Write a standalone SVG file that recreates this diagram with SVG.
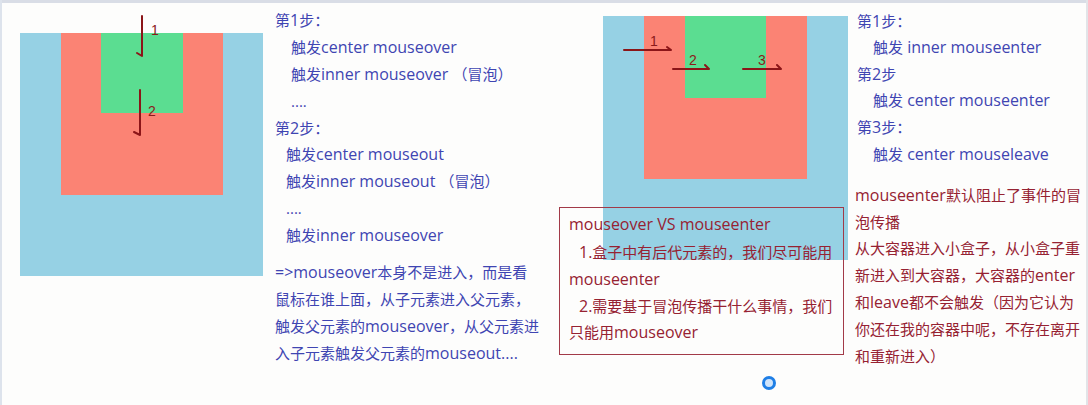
<svg xmlns="http://www.w3.org/2000/svg" width="1088" height="405" viewBox="0 0 1088 405">
<style>
.t{font-family:"Open Sans","Noto Sans CJK SC",sans-serif;font-size:15px}
.t .l{font-size:16px}
.b{fill:#3f45b2}
.r{fill:#962232}
.lbl{font-family:"Liberation Sans","Noto Sans CJK SC",sans-serif;font-size:14px;fill:#8b1a1a}
.arr{fill:none;stroke:#8b1518;stroke-width:2;stroke-linecap:round;stroke-linejoin:round}
.blue{fill:#96d1e4}
.red{fill:#fb8374}
.green{fill:#5bdd91}
</style>
<rect x="0" y="0" width="1088" height="405" fill="#fdfdfc"/>
<rect x="0" y="0" width="1088" height="3" fill="#d9dde6"/>
<rect x="0" y="0" width="2" height="405" fill="#dde3ec"/>
<rect x="1086" y="0" width="2" height="405" fill="#e2e4e8"/>

<g id="left-boxes">
<rect class="blue" x="20" y="33" width="243" height="243"/>
<rect class="red" x="61" y="33" width="162" height="162"/>
<rect class="green" x="101" y="33" width="82" height="80"/>
</g>
<g id="right-boxes">
<rect class="blue" x="603" y="16" width="245" height="244"/>
<rect class="red" x="644" y="16" width="163" height="163"/>
<rect class="green" x="685" y="16" width="81" height="82"/>
</g>

<g id="connectors">
<path class="arr" d="M142 16 V56 L137 53"/>
<path class="arr" d="M140 90 V135 L134 132"/>
<path class="arr" d="M624 50 H671 L667 47"/>
<path class="arr" d="M673 69 H709 L705 65"/>
<path class="arr" d="M743 69 H781 L777 65"/>
<text class="lbl" x="151" y="35">1</text>
<text class="lbl" x="148" y="116">2</text>
<text class="lbl" x="650" y="46">1</text>
<text class="lbl" x="689" y="65">2</text>
<text class="lbl" x="758" y="65">3</text>
</g>

<g id="left-steps" class="t b">
<text x="275" y="26">第<tspan class="l">1</tspan>步：</text>
<text x="291" y="53">触发<tspan class="l">center mouseover</tspan></text>
<text x="291" y="80">触发<tspan class="l">inner mouseover </tspan>（冒泡）</text>
<text x="291" y="107">....</text>
<text x="275" y="134">第<tspan class="l">2</tspan>步：</text>
<text x="286" y="160">触发<tspan class="l">center mouseout</tspan></text>
<text x="286" y="187">触发<tspan class="l">inner mouseout </tspan>（冒泡）</text>
<text x="286" y="214">....</text>
<text x="286" y="241">触发<tspan class="l">inner mouseover</tspan></text>
</g>

<g id="left-note" class="t b">
<text x="275" y="278"><tspan class="l">=&gt;mouseover</tspan>本身不是进入，而是看</text>
<text x="275" y="305">鼠标在谁上面，从子元素进入父元素，</text>
<text x="275" y="332">触发父元素的<tspan class="l">mouseover</tspan>，从父元素进</text>
<text x="275" y="359">入子元素触发父元素的<tspan class="l">mouseout....</tspan></text>
</g>

<g id="right-steps" class="t b">
<text x="857" y="27">第<tspan class="l">1</tspan>步：</text>
<text x="873" y="53">触发<tspan class="l"> inner mouseenter</tspan></text>
<text x="857" y="80">第<tspan class="l">2</tspan>步</text>
<text x="873" y="106">触发<tspan class="l"> center mouseenter</tspan></text>
<text x="857" y="133">第<tspan class="l">3</tspan>步：</text>
<text x="873" y="160">触发<tspan class="l"> center mouseleave</tspan></text>
</g>

<g id="compare-box">
<rect x="559.5" y="207.5" width="284" height="147" fill="none" stroke="#a23a48" stroke-width="1"/>
<g class="t r">
<text x="569" y="230"><tspan class="l">mouseover VS mouseenter</tspan></text>
<text x="579" y="258"><tspan class="l">1.</tspan>盒子中有后代元素的，我们尽可能用</text>
<text x="569" y="285"><tspan class="l">mouseenter</tspan></text>
<text x="579" y="312"><tspan class="l">2.</tspan>需要基于冒泡传播干什么事情，我们</text>
<text x="569" y="338">只能用<tspan class="l">mouseover</tspan></text>
</g>
</g>

<g id="right-note" class="t r">
<text x="855" y="201"><tspan class="l">mouseenter</tspan>默认阻止了事件的冒</text>
<text x="855" y="228">泡传播</text>
<text x="855" y="254">从大容器进入小盒子，从小盒子重</text>
<text x="855" y="281">新进入到大容器，大容器的<tspan class="l">enter</tspan></text>
<text x="855" y="308">和<tspan class="l">leave</tspan>都不会触发（因为它认为</text>
<text x="855" y="335">你还在我的容器中呢，不存在离开</text>
<text x="855" y="362">和重新进入）</text>
</g>

<g id="cursor-icon">
<circle cx="769" cy="383" r="5.5" fill="#cfe4fb" stroke="#1f7fe6" stroke-width="3"/>
</g>
</svg>
